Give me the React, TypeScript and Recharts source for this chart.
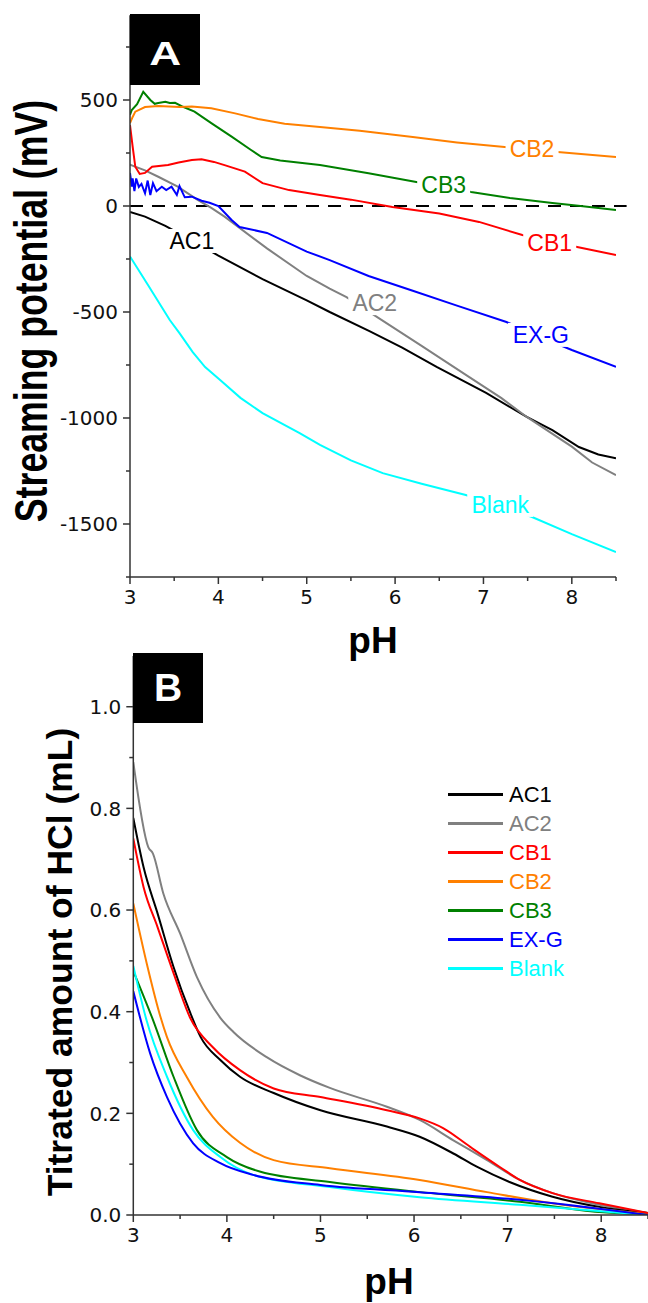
import React from "react";
import { LineChart, Line, XAxis, YAxis, ReferenceLine, ReferenceDot, Legend } from "recharts";

type Pt = [number, number];

// ---- panel A: streaming potential (mV) vs pH ----
const SP_AC1: Pt[] = [[3.0, -28], [3.17, -50], [3.4, -94], [3.7, -162], [4.0, -234], [4.16, -270], [4.5, -345], [5.0, -445], [5.26, -500], [5.71, -590], [6.08, -668], [6.47, -759], [7.03, -882], [7.49, -995], [7.78, -1057], [8.08, -1137], [8.3, -1172], [8.5, -1190]];
const SP_AC2: Pt[] = [[3.0, 195], [3.17, 168], [3.32, 138], [3.54, 91], [3.77, 28], [3.92, -9], [4.07, -50], [4.55, -200], [5.0, -330], [5.26, -390], [5.45, -430], [5.85, -538], [6.3, -660], [6.84, -807], [7.2, -905], [7.49, -995], [8.0, -1135], [8.23, -1210], [8.5, -1270]];
const SP_CB1: Pt[] = [[3.0, 382], [3.03, 280], [3.06, 185], [3.11, 151], [3.17, 156], [3.25, 185], [3.43, 193], [3.55, 205], [3.7, 217], [3.81, 220], [3.95, 208], [4.07, 193], [4.3, 162], [4.5, 108], [4.8, 75], [5.15, 52], [5.5, 30], [5.97, -5], [6.5, -35], [6.95, -75], [7.44, -137], [8.06, -193], [8.5, -231]];
const SP_CB2: Pt[] = [[3.0, 391], [3.03, 420], [3.06, 445], [3.17, 467], [3.32, 472], [3.56, 467], [3.7, 469], [3.92, 461], [4.19, 437], [4.45, 410], [4.75, 388], [5.15, 373], [5.6, 355], [6.2, 325], [6.7, 300], [7.24, 278], [7.84, 255], [8.5, 231]];
const SP_CB3: Pt[] = [[3.0, 430], [3.02, 453], [3.08, 480], [3.15, 539], [3.23, 500], [3.28, 482], [3.32, 486], [3.4, 492], [3.45, 486], [3.51, 487], [3.6, 468], [3.73, 445], [3.92, 391], [4.15, 327], [4.37, 264], [4.49, 231], [4.7, 215], [5.15, 193], [5.7, 155], [6.24, 113], [6.86, 66], [7.3, 38], [7.78, 14], [8.1, 0], [8.5, -19]];
const SP_EXG: Pt[] = [[3.0, 156], [3.02, 91], [3.03, 130], [3.05, 70], [3.07, 130], [3.1, 90], [3.13, 104], [3.17, 60], [3.2, 120], [3.23, 52], [3.26, 108], [3.3, 70], [3.36, 91], [3.41, 75], [3.47, 91], [3.53, 52], [3.56, 94], [3.62, 41], [3.7, 44], [3.81, 25], [3.9, 15], [4.0, 0], [4.15, -66], [4.24, -99], [4.55, -127], [5.0, -215], [5.26, -255], [5.7, -330], [6.2, -400], [6.7, -470], [7.26, -547], [7.6, -610], [8.0, -679], [8.5, -759]];
const SP_BLANK: Pt[] = [[3.0, -238], [3.2, -370], [3.45, -538], [3.56, -600], [3.71, -689], [3.85, -760], [4.02, -821], [4.25, -905], [4.5, -977], [4.92, -1071], [5.15, -1127], [5.5, -1200], [5.86, -1260], [6.3, -1310], [6.8, -1363], [7.2, -1415], [7.55, -1467], [8.0, -1548], [8.5, -1632]];

// ---- panel B: titrated amount of HCl (mL) vs pH ----
const HCL_AC1: Pt[] = [[3.0, 0.781], [3.11, 0.684], [3.26, 0.593], [3.43, 0.488], [3.61, 0.397], [3.72, 0.35], [3.93, 0.305], [4.14, 0.272], [4.5, 0.24], [5.0, 0.206], [5.71, 0.174], [6.06, 0.154], [6.42, 0.121], [6.67, 0.095], [7.02, 0.065], [7.48, 0.036], [7.98, 0.016], [8.5, 0.004]];
const HCL_AC2: Pt[] = [[3.0, 0.891], [3.16, 0.724], [3.21, 0.711], [3.32, 0.633], [3.5, 0.554], [3.68, 0.468], [3.93, 0.388], [4.07, 0.36], [4.43, 0.31], [4.78, 0.275], [5.1, 0.25], [5.71, 0.213], [6.06, 0.187], [6.42, 0.147], [6.78, 0.108], [7.13, 0.069], [7.48, 0.043], [7.98, 0.02], [8.5, 0.004]];
const HCL_CB1: Pt[] = [[3.0, 0.741], [3.11, 0.645], [3.26, 0.566], [3.43, 0.476], [3.61, 0.387], [3.85, 0.33], [4.14, 0.285], [4.5, 0.249], [5.0, 0.232], [5.71, 0.206], [6.06, 0.19], [6.31, 0.171], [6.6, 0.134], [6.92, 0.094], [7.13, 0.069], [7.48, 0.043], [7.98, 0.023], [8.5, 0.004]];
const HCL_CB2: Pt[] = [[3.0, 0.613], [3.15, 0.49], [3.29, 0.39], [3.36, 0.35], [3.57, 0.272], [3.85, 0.193], [4.14, 0.142], [4.5, 0.108], [5.1, 0.092], [6.06, 0.069], [6.78, 0.045], [7.48, 0.023], [8.5, 0.002]];
const HCL_CB3: Pt[] = [[3.0, 0.48], [3.21, 0.384], [3.43, 0.272], [3.68, 0.167], [4.0, 0.114], [4.36, 0.085], [5.1, 0.065], [6.06, 0.045], [7.13, 0.026], [7.98, 0.006], [8.5, 0.001]];
const HCL_EXG: Pt[] = [[3.0, 0.44], [3.18, 0.318], [3.36, 0.232], [3.64, 0.141], [3.93, 0.102], [4.28, 0.079], [5.0, 0.059], [6.06, 0.045], [7.13, 0.03], [8.5, 0.0]];
const HCL_BLANK: Pt[] = [[3.0, 0.49], [3.14, 0.384], [3.36, 0.272], [3.64, 0.167], [3.93, 0.114], [4.28, 0.079], [5.1, 0.055], [6.06, 0.035], [7.13, 0.02], [8.5, 0.0]];

const NAMES = ["AC1", "AC2", "CB1", "CB2", "CB3", "EX-G", "Blank"];
const COLORS = ["#000000", "#808080", "#ff0000", "#ff8000", "#008000", "#0000ff", "#00ffff"];

// in-plot tags of panel A (pH, mV), same order as NAMES
const TAG_PH = [3.7, 5.77, 7.75, 7.55, 6.55, 7.65, 7.19];
const TAG_MV = [-165, -458, -172, 271, 101, -608, -1410];

const PH_TICKS = [3, 3.5, 4, 4.5, 5, 5.5, 6, 6.5, 7, 7.5, 8, 8.5];
const SP_TICKS = [-1750, -1500, -1250, -1000, -750, -500, -250, 0, 250, 500, 750];
const HCL_TICKS = [0, 0.1, 0.2, 0.3, 0.4, 0.5, 0.6, 0.7, 0.8, 0.9, 1.0];

const SP_DATA = [SP_AC1, SP_AC2, SP_CB1, SP_CB2, SP_CB3, SP_EXG, SP_BLANK];
const HCL_DATA = [HCL_AC1, HCL_AC2, HCL_CB1, HCL_CB2, HCL_CB3, HCL_EXG, HCL_BLANK];

const AXIS = "#333";
const TICK_FONT = "'DejaVu Sans', Arial, sans-serif";
const TEXT_FONT = "'Liberation Sans', Arial, sans-serif";
const axisLine = { stroke: AXIS, strokeWidth: 1.5 };

const rows = (pts: Pt[]) => pts.map(([ph, v]) => ({ ph, v }));

function PhTick(props: any) {
  const { x, y, payload } = props;
  const major = Number.isInteger(payload.value);
  return (
    <g>
      <line x1={x} x2={x} y1={y} y2={y + (major ? 7 : 4)} stroke={AXIS} strokeWidth={1.5} />
      {major && (
        <text x={x} y={y + 13} dy="0.71em" textAnchor="middle" fontFamily={TICK_FONT} fontSize={20} fill="#111">
          {payload.value}
        </text>
      )}
    </g>
  );
}

function makeYTick(isMajor: (v: number) => boolean, fmt: (v: number) => string) {
  return (props: any) => {
    const { x, y, payload } = props;
    const major = isMajor(payload.value);
    return (
      <g>
        <line x1={x - (major ? 7 : 4)} x2={x} y1={y} y2={y} stroke={AXIS} strokeWidth={1.5} />
        {major && (
          <text x={x - 12} y={y} dy="0.36em" textAnchor="end" fontFamily={TICK_FONT} fontSize={20} fill="#111">
            {fmt(payload.value)}
          </text>
        )}
      </g>
    );
  };
}

const SpTick = makeYTick((v) => v % 500 === 0, (v) => String(v));
const HclTick = makeYTick((v) => Math.round(v * 10) % 2 === 0, (v) => v.toFixed(1));

function tag(text: string, color: string) {
  return (props: any) => {
    const vb = props.viewBox || {};
    const cx = vb.x + (vb.width || 0) / 2;
    const cy = vb.y + (vb.height || 0) / 2;
    const w = text.length > 3 ? 66 : 53;
    return (
      <g>
        <rect x={cx - w / 2} y={cy - 12} width={w} height={24} fill="#fff" />
        <text x={cx} y={cy} dy="0.36em" textAnchor="middle" fontFamily={TEXT_FONT} fontSize={23} fill={color}>
          {text}
        </text>
      </g>
    );
  };
}

const boxStyle: React.CSSProperties = {
  position: "absolute",
  background: "#000",
  color: "#fff",
  fontFamily: TEXT_FONT,
  fontWeight: "bold",
  display: "flex",
  alignItems: "center",
  justifyContent: "center",
};

const SP_ORDER = [6, 0, 1, 5, 2, 4, 3];
const HCL_ORDER = [1, 0, 3, 4, 6, 5, 2];

export default function App() {
  return (
    <div style={{ position: "absolute", left: 0, top: 0, width: 648, height: 1303, background: "#fff", overflow: "hidden" }}>
      <div style={{ position: "absolute", left: 0, top: 0 }}>
        <LineChart width={648} height={662} margin={{ top: 15.2, right: 32, bottom: 0, left: 0 }}>
          <XAxis
            type="number"
            dataKey="ph"
            domain={[3, 8.5]}
            ticks={PH_TICKS}
            interval={0}
            tickSize={0}
            tickMargin={0}
            tickLine={false}
            axisLine={axisLine}
            tick={PhTick}
            height={85}
            allowDataOverflow
            label={() => (
              <text x={373} y={653} textAnchor="middle" fontFamily={TEXT_FONT} fontWeight="bold" fontSize={37} fill="#000">
                pH
              </text>
            )}
          />
          <YAxis
            type="number"
            domain={[-1750, 900]}
            ticks={SP_TICKS}
            interval={0}
            tickSize={0}
            tickMargin={0}
            tickLine={false}
            axisLine={axisLine}
            tick={SpTick}
            width={130}
            allowDataOverflow
            label={() => (
              <text
                transform="translate(47,311) rotate(-90) scale(1,1.3)"
                textAnchor="middle"
                fontFamily={TEXT_FONT}
                fontWeight="bold"
                fontSize={35.7}
                fill="#000"
              >
                Streaming potential (mV)
              </text>
            )}
          />
          <ReferenceLine
            segment={[{ x: 3, y: 0 }, { x: 8.62, y: 0 }]}
            ifOverflow="visible"
            stroke="#000"
            strokeWidth={2}
            strokeDasharray="13 9"
          />
          {SP_ORDER.map((i) => (
            <Line
              key={NAMES[i]}
              data={rows(SP_DATA[i])}
              dataKey="v"
              name={NAMES[i]}
              type="linear"
              stroke={COLORS[i]}
              strokeWidth={2}
              dot={false}
              isAnimationActive={false}
            />
          ))}
          {NAMES.map((n, i) => (
            <ReferenceDot key={n} x={TAG_PH[i]} y={TAG_MV[i]} r={0} fill="none" stroke="none" label={tag(n, COLORS[i])} />
          ))}
        </LineChart>
        <div style={{ ...boxStyle, left: 130, top: 14, width: 70, height: 71, fontSize: 34 }}>
          <span style={{ display: "inline-block", transform: "scaleX(1.3)", marginTop: 8 }}>A</span>
        </div>
      </div>

      <div style={{ position: "absolute", left: 0, top: 630 }}>
        <LineChart width={648} height={673} margin={{ top: 25.9, right: 0, bottom: 0, left: 0 }}>
          <XAxis
            type="number"
            dataKey="ph"
            domain={[3, 8.5]}
            ticks={PH_TICKS}
            interval={0}
            tickSize={0}
            tickMargin={0}
            tickLine={false}
            axisLine={axisLine}
            tick={PhTick}
            height={88}
            allowDataOverflow
            label={() => (
              <text x={389} y={664} textAnchor="middle" fontFamily={TEXT_FONT} fontWeight="bold" fontSize={37} fill="#000">
                pH
              </text>
            )}
          />
          <YAxis
            type="number"
            domain={[0, 1.1]}
            ticks={HCL_TICKS}
            interval={0}
            tickSize={0}
            tickMargin={0}
            tickLine={false}
            axisLine={axisLine}
            tick={HclTick}
            width={133.3}
            allowDataOverflow
            label={() => (
              <text
                transform="translate(72,332) rotate(-90)"
                textAnchor="middle"
                fontFamily={TEXT_FONT}
                fontWeight="bold"
                fontSize={35.5}
                fill="#000"
              >
                Titrated amount of HCl (mL)
              </text>
            )}
          />
          {HCL_ORDER.map((i) => (
            <Line
              key={NAMES[i]}
              data={rows(HCL_DATA[i])}
              dataKey="v"
              name={NAMES[i]}
              type="monotone"
              stroke={COLORS[i]}
              strokeWidth={2}
              dot={false}
              isAnimationActive={false}
            />
          ))}
          <Legend
            layout="vertical"
            align="center"
            verticalAlign="middle"
            wrapperStyle={{ left: 448, top: 149.5, width: 170 }}
            content={() => (
              <div>
                {NAMES.map((n, i) => (
                  <div key={n} style={{ display: "flex", alignItems: "center", height: 29 }}>
                    <div style={{ width: 55, height: 3, background: COLORS[i], marginRight: 6 }} />
                    <span style={{ fontFamily: TEXT_FONT, fontSize: 22, lineHeight: "29px", color: COLORS[i] }}>{n}</span>
                  </div>
                ))}
              </div>
            )}
          />
        </LineChart>
        <div style={{ ...boxStyle, left: 133, top: 23, width: 70, height: 70, fontSize: 39 }}>B</div>
      </div>
    </div>
  );
}
